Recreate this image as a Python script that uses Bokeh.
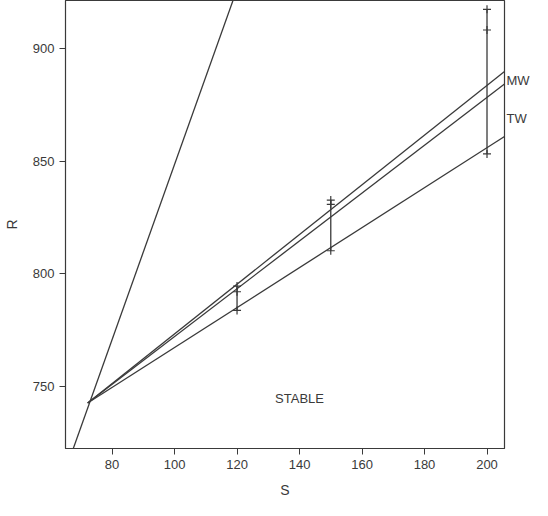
from bokeh.plotting import figure
from bokeh.models import Range1d, Label, FixedTicker, LinearAxis
from bokeh.embed import file_html
from bokeh.resources import INLINE

# ---- data ----
line_S = [72.2, 205.6]
line_MW = [742.6, 889.8]
line_mid = [742.6, 884.2]
line_TW = [742.6, 860.9]
steep_S = [67.0, 119.5]
steep_R = [720.1, 924.4]
err_S = [120, 150, 200]
err_hi = [794.5, 832.7, 917.4]
err_mid = [792.0, 830.8, 908.2]
err_lo = [783.7, 810.2, 853.2]
x_ticks = [80, 100, 120, 140, 160, 180, 200]
y_ticks = [750, 800, 850, 900]
labels = ["MW", "TW"]
label_R = [886, 869]
stable_S, stable_R = 140, 744.4

INK = "#3a3a3a"
FONT = "Liberation Sans"

p = figure(width=532, height=500, output_backend="svg", toolbar_location=None,
           x_range=Range1d(65.1, 205.6), y_range=Range1d(722.4, 921.3),
           min_border_left=64, min_border_right=20, min_border_top=0,
           min_border_bottom=50)
p.grid.visible = False
p.outline_line_color = INK
p.outline_line_width = 1.2

for ax in (p.xaxis[0], p.yaxis[0]):
    ax.axis_line_color = INK
    ax.major_tick_line_color = INK
    ax.major_tick_in = 0
    ax.major_tick_out = 6
    ax.minor_tick_line_color = None
    ax.major_label_text_font = FONT
    ax.major_label_text_font_size = "13px"
    ax.major_label_text_color = INK
    ax.axis_label_text_font = FONT
    ax.axis_label_text_font_size = "14px"
    ax.axis_label_text_font_style = "normal"
    ax.axis_label_text_color = INK

p.xaxis.ticker = FixedTicker(ticks=x_ticks)
p.yaxis.ticker = FixedTicker(ticks=y_ticks)
p.xaxis.axis_label = "S"
p.yaxis.axis_label = "R"
p.xaxis.major_label_standoff = 5
p.xaxis.axis_label_standoff = 10
p.yaxis.major_label_standoff = 5
p.yaxis.axis_label_standoff = 10

# right-hand curve labels (MW, TW) placed as a tick-less axis
rax = LinearAxis(ticker=FixedTicker(ticks=label_R),
                 major_label_overrides={r: t for r, t in zip(label_R, labels)},
                 axis_line_color=None, major_tick_line_color=None,
                 minor_tick_line_color=None, major_tick_in=0, major_tick_out=0,
                 major_label_standoff=2, axis_label_standoff=0,
                 major_label_text_font=FONT,
                 major_label_text_font_size="13px", major_label_text_color=INK)
p.add_layout(rax, "right")

lw = 1.3
p.line(steep_S, steep_R, line_color=INK, line_width=lw)
p.line(line_S, line_MW, line_color=INK, line_width=lw)
p.line(line_S, line_mid, line_color=INK, line_width=lw)
p.line(line_S, line_TW, line_color=INK, line_width=lw)

p.segment(x0=err_S, y0=err_lo, x1=err_S, y1=err_hi, line_color=INK, line_width=lw)
for ys in (err_hi, err_mid, err_lo):
    p.scatter(err_S, ys, marker="cross", size=8, line_color=INK, line_width=1.2)

p.add_layout(Label(x=stable_S, y=stable_R, text="STABLE", text_font=FONT,
                   text_font_size="13px", text_color=INK,
                   text_baseline="middle", text_align="center"))

open("out.html", "w").write(file_html(p, INLINE))
